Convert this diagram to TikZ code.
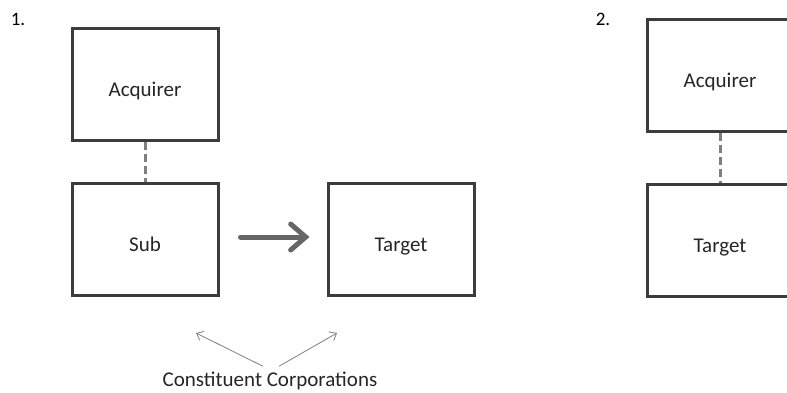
\documentclass[tikz,border=0pt]{standalone}
\usepackage{fontspec}
\setmainfont{Carlito}
\usetikzlibrary{arrows.meta,positioning}
\definecolor{boxgray}{HTML}{3C3C3C}
\definecolor{linkgray}{HTML}{7F7F7F}
\definecolor{arrgray}{HTML}{666666}
\tikzset{entity/.style={draw=boxgray,line width=3pt,minimum width=146pt,minimum height=112pt,inner sep=0pt,text height=26pt,text depth=2pt,font=\fontsize{21}{25}\selectfont,text=black!85},
	link/.style={draw=linkgray,line width=3pt,dash pattern=on 8pt off 4pt},
	merge/.style={draw=arrgray,line width=5pt,line cap=round,-{Straight Barb[length=15pt,width=26pt,line cap=round]}},
	pointer/.style={draw=gray,line width=0.8pt,-{Straight Barb[length=6pt,width=10pt]}}}

\begin{document}
\begin{tikzpicture}[x=1pt,y=-1pt,every node/.style={inner sep=0pt}]
\useasboundingbox (0,0) rectangle (787,392);
\clip (0,0) rectangle (787,392);
\fill[white] (0,0) rectangle (787,392);

% structure 1
\node[font=\fontsize{19}{22}\selectfont] (one) at (18,19) {1.};
\node[entity] (acqa) at (145,84) {Acquirer};
\node[entity] (sub) at (145,239) {Sub};
\node[entity] (tgta) at (401,239) {Target};
\draw[link] (acqa) -- (sub);
\draw[merge,shorten <=21pt,shorten >=17pt] ([yshift=2pt]sub.east) -- ([yshift=2pt]tgta.west);

\node[anchor=base,font=\fontsize{21}{25}\selectfont,text=black!85] (constit) at (270,386) {Constituent Corporations};
\coordinate (pa) at (196,333);
\coordinate (pb) at (337,333);
\draw[pointer] ([xshift=-7pt,yshift=5pt]constit.north) -- (pa);
\draw[pointer] ([xshift=9pt,yshift=5pt]constit.north) -- (pb);

% structure 2
\node[font=\fontsize{19}{22}\selectfont] (two) at (603,19) {2.};
\node[entity] (acqb) at (720,75) {Acquirer};
\node[entity] (tgtb) at (720,240) {Target};
\draw[link] (acqb) -- (tgtb);

\end{tikzpicture}
\end{document}
